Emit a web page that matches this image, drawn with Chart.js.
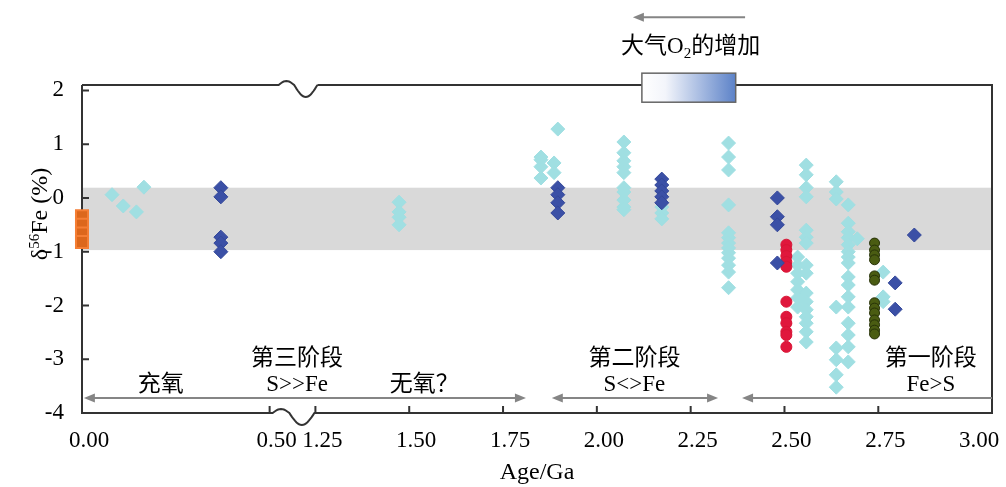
<!DOCTYPE html>
<html>
<head>
<meta charset="utf-8">
<script src="https://cdn.jsdelivr.net/npm/chart.js@4.4.1/dist/chart.umd.min.js"></script>
<style>
  html, body { margin: 0; padding: 0; background: #fff; }
  #wrap { width: 1006px; height: 487px; }
</style>
</head>
<body>
<div id="wrap"><canvas id="chart"></canvas></div>
<script>
// age axis ticks (Ga) and the break between 0.5 and 1.25
const tickAges = [0, 0.5, 1.25, 1.5, 1.75, 2, 2.25, 2.5, 2.75, 3]
const breakLo = 0.5, breakHi = 1.25, breakGap = 0.122

// [age, [delta56Fe values]] per column
const lightCols = [
  [0.08, [0.06]], [0.11, [-0.15]], [0.145, [-0.26]], [0.165, [0.2]],
  [1.473, [-0.08, -0.26, -0.36, -0.5]],
  [1.851, [0.76, 0.71, 0.58, 0.37]],
  [1.886, [0.65, 0.47]],
  [1.896, [1.28]],
  [2.072, [1.04, 0.84, 0.69, 0.58, 0.47, 0.19, 0.11, -0.04, -0.17, -0.22]],
  [2.173, [-0.17, -0.28, -0.39]],
  [2.351, [1.02, 0.76, 0.52, -0.13, -0.65, -0.74, -0.84, -0.93, -1.02, -1.12, -1.25, -1.38, -1.67]],
  [2.535, [-1.1, -1.25, -1.4, -1.56, -1.71, -1.86, -2.03]],
  [2.558, [0.61, 0.43, 0.19, 0.02, -0.6, -0.73, -0.84, -1.25, -1.4, -1.77, -1.93, -2.08, -2.21, -2.33, -2.49, -2.68]],
  [2.638, [0.3, 0.11, -0.02, -2.03, -2.79, -3.01, -3.29, -3.52]],
  [2.67, [-0.13, -0.47, -0.63, -0.74, -0.87, -1.0, -1.1, -1.21, -1.47, -1.62, -1.84, -2.03, -2.33, -2.55, -2.77, -3.05]],
  [2.694, [-0.76]],
  [2.763, [-1.38, -1.84, -1.93]]
]
const darkCols = [
  [0.37, [0.19, 0.02, -0.73, -0.84, -1.0]],
  [1.896, [0.19, 0.06, -0.09, -0.28]],
  [2.173, [0.35, 0.24, 0.13, 0.02, -0.09]],
  [2.481, [0.0, -0.35, -0.5, -1.21]],
  [2.795, [-1.58, -2.07]],
  [2.846, [-0.69]]
]
const redCols = [
  [2.505, [-0.87, -0.97, -1.08, -1.19, -1.28, -1.93, -2.21, -2.33, -2.49, -2.55, -2.77]]
]
const oliveCols = [
  [2.74, [-0.84, -0.97, -1.06, -1.15, -1.45, -1.53, -1.95, -2.05, -2.14, -2.27, -2.36, -2.46, -2.53]]
]
const modernCols = [
  [0, [-0.34, -0.5, -0.66, -0.82]]
]

// grey band of the igneous range
const bandTop = 0.19, bandBottom = -0.97

// phase labels and arrows (age, value)
const phaseTexts = [
  ['充氧', 0.21, -3.48],
  ['第三阶段', 0.95, -2.99],
  ['S>>Fe', 0.95, -3.48],
  ['无氧？', 1.54, -3.48],
  ['第二阶段', 2.1, -2.99],
  ['S<>Fe', 2.1, -3.48],
  ['第一阶段', 2.89, -2.99],
  ['Fe>S', 2.89, -3.48]
]
const phaseArrows = [
  [0.005, 1.811, true, true],
  [1.88, 2.323, true, true],
  [2.387, null, true, false]
]
const arrowY = -3.72
const o2Box = [2.12, 2.37, 2.32, 1.78]
const o2Arrow = [2.096, 2.395, 3.36]
const o2Label = [2.25, 2.81]

function toDisp(age) {
  if (age <= breakLo) return age
  if (age >= breakHi) return age - (breakHi - breakLo) + breakGap
  return breakLo + (age - breakLo) / (breakHi - breakLo) * breakGap
}

function pts(cols) {
  return cols.flatMap(([age, vals]) => vals.map(v => ({x: toDisp(age), y: v})))
}

const serif = '"Liberation Serif", "Noto Sans CJK SC", serif'

function arrowHead(ctx, x, y, dir) {
  ctx.beginPath()
  ctx.moveTo(x, y)
  ctx.lineTo(x - dir * 11, y - 4.5)
  ctx.lineTo(x - dir * 11, y + 4.5)
  ctx.closePath()
  ctx.fill()
}

// wavy break mark on a horizontal axis line
function squiggle(ctx, xa, xb, yb) {
  const w = xb - xa
  for (let i = 0; i <= 30; i++) {
    const t = i / 30
    const f = t < 0.4 ? -4 * Math.sin(Math.PI * t / 0.4) : 12 * Math.sin(Math.PI * (t - 0.4) / 0.6)
    ctx.lineTo(xa + t * w, yb + f)
  }
}

const decor = {
  id: 'decor',
  beforeDatasetsDraw(chart) {
    const {ctx, chartArea: a, scales: {x, y}} = chart
    ctx.save()
    const t = y.getPixelForValue(bandTop), b = y.getPixelForValue(bandBottom)
    ctx.fillStyle = '#d9d9d9'
    ctx.fillRect(a.left, t, a.right - a.left, b - t)

    // frame with the axis break
    const xa = x.getPixelForValue(toDisp(breakLo)) + 3
    const xb = x.getPixelForValue(toDisp(breakHi)) - 1
    ctx.strokeStyle = '#333'
    ctx.lineWidth = 2
    ctx.beginPath()
    ctx.moveTo(a.left, a.top)
    ctx.lineTo(a.left, a.bottom)
    ctx.lineTo(xa, a.bottom)
    squiggle(ctx, xa, xb, a.bottom)
    ctx.lineTo(a.right, a.bottom)
    ctx.lineTo(a.right, a.top)
    ctx.lineTo(xb + 3, a.top)
    ctx.moveTo(a.left, a.top)
    ctx.lineTo(xa + 6, a.top)
    squiggle(ctx, xa + 6, xb + 3, a.top)
    ctx.stroke()

    // inward tick marks
    ctx.beginPath()
    y.ticks.forEach(tk => {
      const py = y.getPixelForValue(tk.value)
      ctx.moveTo(a.left, py); ctx.lineTo(a.left + 7, py)
    })
    x.ticks.forEach((tk, i) => {
      if (i === 0 || i === x.ticks.length - 1) return
      const px = x.getPixelForValue(tk.value)
      ctx.moveTo(px, a.bottom); ctx.lineTo(px, a.bottom - 7)
    })
    ctx.stroke()
    ctx.restore()
  },
  afterDatasetsDraw(chart) {
    const {ctx, chartArea: a, scales: {x, y}} = chart
    const px = age => x.getPixelForValue(toDisp(age))
    ctx.save()

    // O2 box on the top border
    const bx0 = px(o2Box[0]), bx1 = px(o2Box[1])
    const by0 = y.getPixelForValue(o2Box[2]), by1 = y.getPixelForValue(o2Box[3])
    const g = ctx.createLinearGradient(bx0, 0, bx1, 0)
    g.addColorStop(0, '#ffffff')
    g.addColorStop(0.25, '#f3f5fb')
    g.addColorStop(1, '#5c82c8')
    ctx.fillStyle = g
    ctx.fillRect(bx0, by0, bx1 - bx0, by1 - by0)
    ctx.strokeStyle = '#666'
    ctx.lineWidth = 1.5
    ctx.strokeRect(bx0, by0, bx1 - bx0, by1 - by0)

    // arrows
    ctx.strokeStyle = '#858585'
    ctx.fillStyle = '#858585'
    ctx.lineWidth = 2
    const ay = y.getPixelForValue(arrowY)
    phaseArrows.forEach(([from, to, headL, headR]) => {
      const x0 = px(from), x1 = to === null ? a.right : px(to)
      ctx.beginPath(); ctx.moveTo(x0 + 6, ay); ctx.lineTo(x1 - (headR ? 6 : 0), ay); ctx.stroke()
      if (headL) arrowHead(ctx, x0, ay, -1)
      if (headR) arrowHead(ctx, x1, ay, 1)
    })
    const ty = y.getPixelForValue(o2Arrow[2])
    ctx.beginPath(); ctx.moveTo(px(o2Arrow[0]) + 6, ty); ctx.lineTo(px(o2Arrow[1]), ty); ctx.stroke()
    arrowHead(ctx, px(o2Arrow[0]), ty, -1)

    // texts
    ctx.fillStyle = '#000'
    ctx.font = '23px ' + serif
    ctx.textAlign = 'center'
    ctx.textBaseline = 'middle'
    phaseTexts.forEach(([txt, age, v]) => ctx.fillText(txt, px(age), y.getPixelForValue(v)))

    // 大气O2的增加 with subscript
    const lx = px(o2Label[0]), ly = y.getPixelForValue(o2Label[1])
    ctx.textAlign = 'left'
    const p1 = '大气O', p3 = '的增加'
    ctx.font = '23px ' + serif
    const w1 = ctx.measureText(p1).width, w3 = ctx.measureText(p3).width
    ctx.font = '15px ' + serif
    const w2 = ctx.measureText('2').width
    let cx = lx - (w1 + w2 + w3) / 2
    ctx.font = '23px ' + serif
    ctx.fillText(p1, cx, ly); cx += w1
    ctx.font = '15px ' + serif
    ctx.fillText('2', cx, ly + 7); cx += w2
    ctx.font = '23px ' + serif
    ctx.fillText(p3, cx, ly)

    // y axis title, rotated
    ctx.translate(41, 214)
    ctx.rotate(-Math.PI / 2)
    ctx.font = '24px ' + serif
    const wa = ctx.measureText('δ').width, wc = ctx.measureText('Fe (%)').width
    ctx.font = '15px ' + serif
    const wb = ctx.measureText('56').width
    let sx = -(wa + wb + wc) / 2
    ctx.font = '24px ' + serif
    ctx.fillText('δ', sx, 0); sx += wa
    ctx.font = '15px ' + serif
    ctx.fillText('56', sx, -6); sx += wb
    ctx.font = '24px ' + serif
    ctx.fillText('Fe (%)', sx, 0)
    ctx.restore()
  }
}

const ctx = document.getElementById('chart').getContext('2d')
const chart = new Chart(ctx, {
  type: 'scatter',
  data: {
    datasets: [
      {label: 'modern', data: pts(modernCols), pointStyle: 'rect', pointRadius: 8.5,
       backgroundColor: '#dc671c', borderColor: '#f57e34', borderWidth: 2},
      {label: 'dark', data: pts(darkCols), pointStyle: 'rectRot', pointRadius: 7,
       backgroundColor: '#3b50a6', borderColor: '#34489a', borderWidth: 1},
      {label: 'red', data: pts(redCols), pointStyle: 'circle', pointRadius: 5.5,
       backgroundColor: '#e0173c', borderColor: '#d81535', borderWidth: 1},
      {label: 'olive', data: pts(oliveCols), pointStyle: 'circle', pointRadius: 5,
       backgroundColor: '#4a5c12', borderColor: '#273208', borderWidth: 1},
      {label: 'light', data: pts(lightCols), pointStyle: 'rectRot', pointRadius: 7,
       backgroundColor: '#a0dfe2', borderColor: '#a0dfe2', borderWidth: 1}
    ]
  },
  options: {
    responsive: true,
    maintainAspectRatio: false,
    animation: false,
    events: [],
    clip: false,
    layout: {padding: {top: 85, right: 14, left: 0, bottom: 0}},
    plugins: {legend: {display: false}, tooltip: {enabled: false}},
    scales: {
      x: {
        type: 'linear',
        min: 0,
        max: 2.425,
        grid: {display: false, drawTicks: false},
        border: {display: false},
        afterBuildTicks: scale => { scale.ticks = tickAges.map(a => ({value: toDisp(a)})) },
        afterFit: scale => { scale.height = 74; scale.paddingLeft = 0; scale.paddingRight = 0 },
        ticks: {
          autoSkip: false, maxRotation: 0, padding: 14, labelOffset: 7,
          color: '#000', font: {family: serif, size: 23},
          callback: (v, i) => tickAges[i].toFixed(2)
        },
        title: {display: true, text: 'Age/Ga', color: '#000', padding: 0,
                font: {family: serif, size: 24}}
      },
      y: {
        min: -4,
        max: 2.1,
        grid: {display: false, drawTicks: false},
        border: {display: false},
        afterFit: scale => { scale.width = 82; scale.paddingTop = 0; scale.paddingBottom = 0 },
        ticks: {
          stepSize: 1, includeBounds: false, padding: 18,
          color: '#000', font: {family: serif, size: 23}
        }
      }
    }
  },
  plugins: [decor]
})
</script>
</body>
</html>
